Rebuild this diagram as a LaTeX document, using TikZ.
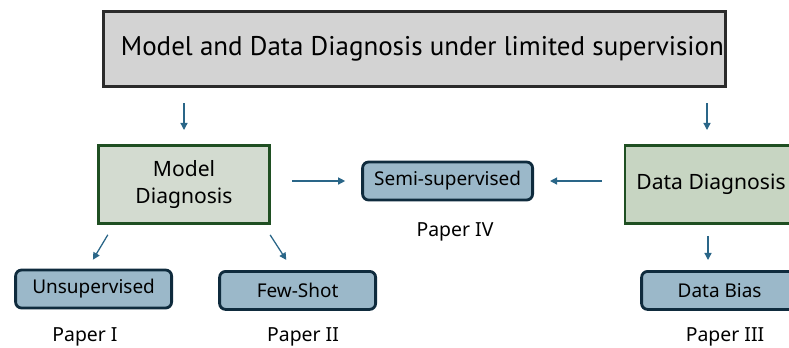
\documentclass[tikz,border=0pt]{standalone}
\usepackage{fontspec}
\setmainfont{Noto Sans}
\newfontfamily\titlefont{PT Sans}
\usetikzlibrary{arrows.meta,calc}

\definecolor{topfill}{HTML}{D3D3D3}
\definecolor{topline}{HTML}{2B2B2B}
\definecolor{diagfill}{HTML}{D3DBD0}
\definecolor{diagfilldark}{HTML}{C7D5C2}
\definecolor{diagline}{HTML}{1F4F22}
\definecolor{paperfill}{HTML}{9BB8C9}
\definecolor{paperline}{HTML}{0F2B3D}
\definecolor{arrowblue}{HTML}{2A6688}

\tikzset{
	topbox/.style={draw=topline,fill=topfill,line width=2pt,inner xsep=0pt,minimum width=15.55cm,minimum height=1.88cm,font=\titlefont\fontsize{19.2}{23}\selectfont},
	diagbox/.style={draw=diagline,fill=diagfill,line width=2pt,minimum width=4.28cm,minimum height=1.95cm,align=center,font=\fontsize{15}{19.5}\selectfont},
	paperbox/.style={draw=paperline,fill=paperfill,line width=2pt,rounded corners=0.15cm,minimum width=3.9cm,minimum height=0.95cm,font=\fontsize{13.5}{16}\selectfont},
	paperlabel/.style={font=\fontsize{13.8}{16}\selectfont},
	arr/.style={draw=arrowblue,line width=0.9pt,-{Triangle[length=5pt,width=5pt]}}
}

\begin{document}
\begin{tikzpicture}
	\useasboundingbox (0,0) rectangle (19.725,-8.675);

	% main topic
	\node[topbox] (top) at (10.36,-1.225) {\hspace{0.4cm}Model and Data Diagnosis under limited supervision};

	% the two branches
	\node[diagbox] (model) at (4.6,-4.61) {Model\\Diagnosis};
	\node[diagbox,fill=diagfilldark,minimum width=4.3cm] (data) at (17.775,-4.61) {Data Diagnosis};

	% papers
	\node[paperbox,minimum width=4.25cm] (semi) at (11.19,-4.525) {Semi-supervised};
	\node[paperbox] (unsup) at (2.34,-7.225) {Unsupervised};
	\node[paperbox] (few) at (7.44,-7.26) {Few-Shot};
	\node[paperbox] (bias) at (17.99,-7.26) {Data Bias};

	\node[paperlabel] (p1) at (2.125,-8.41) {Paper I};
	\node[paperlabel] (p2) at (7.575,-8.41) {Paper II};
	\node[paperlabel] (p3) at (18.125,-8.41) {Paper III};
	\node[paperlabel] (p4) at (11.375,-5.8) {Paper IV};

	% arrows
	\draw[arr,shorten <=0.375cm,shorten >=0.35cm] (model.north |- top.south) -- (model.north);
	\draw[arr,shorten <=0.375cm,shorten >=0.35cm] ([xshift=-0.1cm]data.north |- top.south) -- ([xshift=-0.1cm]data.north);
	\draw[arr,shorten <=0.525cm,shorten >=0.4cm] (model.east |- semi.west) -- (semi.west);
	\draw[arr,shorten <=0.55cm,shorten >=0.4cm] (data.west |- semi.east) -- (semi.east);
	\draw[arr,shorten <=0.29cm,shorten >=0.26cm] ([xshift=0.42cm]model.south west) -- ([xshift=-0.15cm]unsup.north);
	\draw[arr,shorten <=0.3cm,shorten >=0.3cm] ([xshift=-0.185cm]model.south east) -- ([xshift=-0.12cm]few.north);
	\draw[arr,shorten <=0.275cm,shorten >=0.25cm] ([xshift=-0.075cm]data.south) -- ([xshift=-0.075cm]data.south |- bias.north);
\end{tikzpicture}
\end{document}
